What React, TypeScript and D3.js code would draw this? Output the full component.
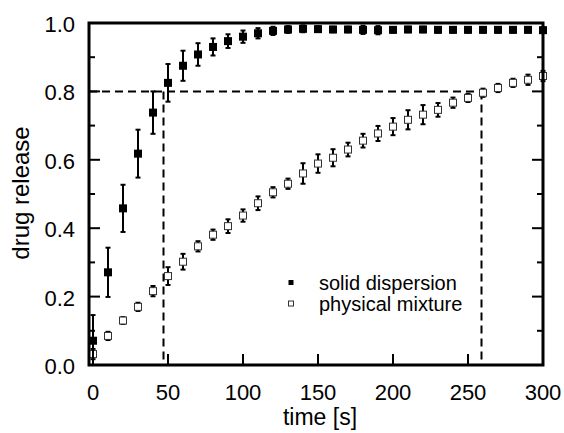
import React from "react";
import * as d3 from "d3";

const times: number[] = d3.range(0, 301, 10);

const solidValues: number[] = [
  0.071, 0.271, 0.458, 0.618, 0.738, 0.825, 0.875, 0.908, 0.93, 0.947,
  0.96, 0.97, 0.977, 0.981, 0.983, 0.982, 0.981, 0.981, 0.98, 0.979,
  0.98, 0.981, 0.981, 0.98, 0.98, 0.98, 0.98, 0.98, 0.98, 0.98, 0.979,
];
const solidErrors: number[] = [
  0.075, 0.072, 0.069, 0.07, 0.062, 0.055, 0.044, 0.033, 0.025, 0.02,
  0.018, 0.015, 0.012, 0.01, 0.01, 0.008, 0.008, 0.008, 0.012, 0.012,
  0.008, 0.008, 0.008, 0.008, 0.008, 0.008, 0.008, 0.008, 0.008, 0.008, 0.008,
];

const mixtureValues: number[] = [
  0.032, 0.085, 0.13, 0.17, 0.216, 0.26, 0.302, 0.347, 0.381, 0.406,
  0.437, 0.473, 0.505, 0.53, 0.56, 0.589, 0.606, 0.63, 0.656, 0.677,
  0.697, 0.717, 0.732, 0.746, 0.767, 0.781, 0.796, 0.81, 0.825, 0.834, 0.845,
];
const mixtureErrors: number[] = [
  0.015, 0.012, 0.01, 0.012, 0.015, 0.026, 0.023, 0.015, 0.015, 0.02,
  0.018, 0.02, 0.015, 0.015, 0.03, 0.027, 0.025, 0.02, 0.02, 0.022,
  0.025, 0.028, 0.028, 0.02, 0.015, 0.012, 0.012, 0.012, 0.012, 0.015, 0.015,
];

const xTicks: number[] = [0, 50, 100, 150, 200, 250, 300];
const yTicks: number[] = [0, 0.2, 0.4, 0.6, 0.8, 1.0];
const yMinorTicks: number[] = [0.1, 0.3, 0.5, 0.7, 0.9];

const thresholdLevel = 0.8;
const thresholdTimes: number[] = [47, 259];

const legendLabels: string[] = ["solid dispersion", "physical mixture"];

const W = 564;
const H = 433;
const left = 89;
const right = 543;
const top = 23;
const bottom = 365;

export default function App() {
  const x = d3.scaleLinear().domain([-2.67, 300]).range([left, right]);
  const y = d3.scaleLinear().domain([0, 1]).range([bottom, top]);
  const font = "Liberation Sans, Arial, sans-serif";

  const errBar = (t: number, v: number, e: number, key: string) => {
    const cx = x(t);
    const y1 = y(Math.max(0, v - e));
    const y2 = y(v + e);
    return (
      <g key={key} stroke="#000" strokeWidth={2}>
        <line x1={cx} x2={cx} y1={y1} y2={y2} />
        <line x1={cx - 2.5} x2={cx + 2.5} y1={y1} y2={y1} />
        <line x1={cx - 2.5} x2={cx + 2.5} y1={y2} y2={y2} />
      </g>
    );
  };

  return (
    <svg
      width={W}
      height={H}
      style={{ position: "absolute", left: 0, top: 0, background: "#fff" }}
    >
      <rect x={0} y={0} width={W} height={H} fill="#fff" />
      {/* dashed guide lines */}
      <g stroke="#000" strokeWidth={2} strokeDasharray="8,5" fill="none">
        <line
          x1={left}
          x2={x(thresholdTimes[1])}
          y1={y(thresholdLevel)}
          y2={y(thresholdLevel)}
        />
        {thresholdTimes.map((t, i) => (
          <line
            key={i}
            x1={x(t)}
            x2={x(t)}
            y1={y(thresholdLevel)}
            y2={bottom}
          />
        ))}
      </g>

      {/* physical mixture */}
      {times.map((t, i) => errBar(t, mixtureValues[i], mixtureErrors[i], "me" + i))}
      {times.map((t, i) => (
        <rect
          key={"m" + i}
          x={x(t) - 3.5}
          y={y(mixtureValues[i]) - 3.5}
          width={7}
          height={7}
          fill="#fff"
          stroke="#333"
          strokeWidth={1}
        />
      ))}

      {/* solid dispersion */}
      {times.map((t, i) => errBar(t, solidValues[i], solidErrors[i], "se" + i))}
      {times.map((t, i) => (
        <rect
          key={"s" + i}
          x={x(t) - 4}
          y={y(solidValues[i]) - 4}
          width={8}
          height={8}
          fill="#000"
        />
      ))}

      {/* frame */}
      <rect
        x={left}
        y={top}
        width={right - left}
        height={bottom - top}
        fill="none"
        stroke="#000"
        strokeWidth={3}
      />

      {/* ticks */}
      <g stroke="#000" strokeWidth={2}>
        {yTicks.map((v, i) => (
          <g key={"yt" + i}>
            <line x1={left} x2={left + 11} y1={y(v)} y2={y(v)} />
            <line x1={right} x2={right - 11} y1={y(v)} y2={y(v)} />
          </g>
        ))}
        {yMinorTicks.map((v, i) => (
          <g key={"ym" + i}>
            <line x1={left} x2={left + 6} y1={y(v)} y2={y(v)} />
            <line x1={right} x2={right - 6} y1={y(v)} y2={y(v)} />
          </g>
        ))}
        {xTicks.map((t, i) => (
          <line key={"xt" + i} x1={x(t)} x2={x(t)} y1={bottom} y2={bottom - 11} />
        ))}
      </g>

      {/* tick labels */}
      <g fontFamily={font} fontSize={22} fill="#000">
        {yTicks.map((v, i) => (
          <text key={"yl" + i} x={75} y={y(v) + 9} textAnchor="end">
            {d3.format(".1f")(v)}
          </text>
        ))}
        {xTicks.map((t, i) => (
          <text key={"xl" + i} x={x(t)} y={400} textAnchor="middle">
            {String(t)}
          </text>
        ))}
      </g>

      {/* axis titles */}
      <text
        x={320}
        y={425}
        textAnchor="middle"
        fontFamily={font}
        fontSize={23}
      >
        time [s]
      </text>
      <text
        transform={`translate(29,193) rotate(-90)`}
        textAnchor="middle"
        fontFamily={font}
        fontSize={24}
      >
        drug release
      </text>

      {/* legend */}
      <rect x={288.5} y={280} width={5} height={5} fill="#000" />
      <rect x={288.5} y={301} width={5} height={5} fill="#fff" stroke="#333" strokeWidth={1} />
      <g fontFamily={font} fontSize={20}>
        <text x={319} y={290}>{legendLabels[0]}</text>
        <text x={319} y={311}>{legendLabels[1]}</text>
      </g>
    </svg>
  );
}
